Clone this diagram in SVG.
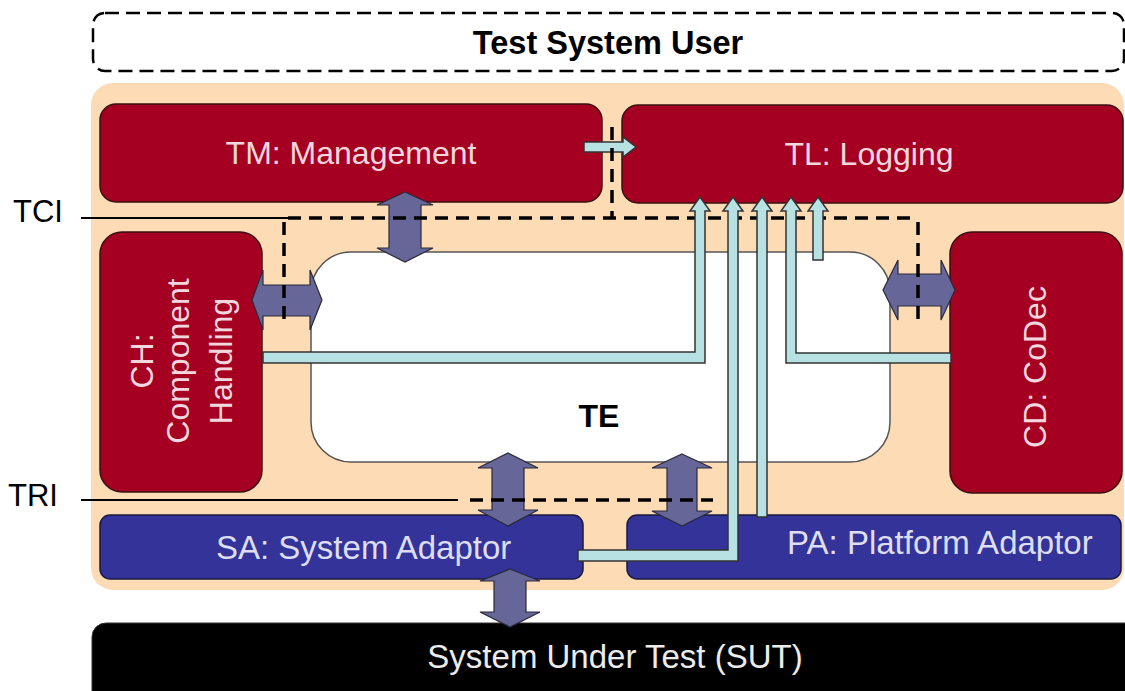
<svg xmlns="http://www.w3.org/2000/svg" width="1125" height="691" viewBox="0 0 1125 691">
<style>
.lbl{font-family:"Liberation Sans",Arial,sans-serif;font-size:32px}
.red{fill:#A50021;stroke:#3a1010;stroke-width:1.5}
.blue{fill:#333399;stroke:#1a1a40;stroke-width:1.5}
.rtxt{fill:#F2D8DE}
.btxt{fill:#DEDEF2}
.pa{fill:#666699;stroke:#2a2a3a;stroke-width:1.2}
.lb{fill:#B8E1E4;stroke:#333;stroke-width:1.5}
.dash{stroke:#000;stroke-width:3.5;stroke-dasharray:13 8;fill:none}
.solid{stroke:#000;stroke-width:2;fill:none}
</style>
<rect width="1125" height="691" fill="#fff"/>
<g id="user">
<rect x="93" y="13" width="1031" height="58" rx="12" fill="#fff" stroke="#000" stroke-width="2.5" stroke-dasharray="14 7"/>
<text class="lbl" x="608" y="54" text-anchor="middle" font-weight="bold" style="font-size:32.5px" fill="#000">Test System User</text>
</g>
<g id="container">
<rect x="91" y="83" width="1033" height="507" rx="22" fill="#FDDBB5"/>
</g>
<g id="TE">
<rect x="311" y="252" width="579" height="210" rx="40" fill="#fff" stroke="#555" stroke-width="1.5"/>
<text class="lbl" x="599" y="427" text-anchor="middle" font-weight="bold" fill="#000">TE</text>
</g>
<g id="TM">
<rect class="red" x="100" y="104" width="502" height="98" rx="16"/>
<text class="lbl rtxt" x="351" y="164" text-anchor="middle">TM: Management</text>
</g>
<g id="TL">
<rect class="red" x="622" y="105" width="501" height="98" rx="16"/>
<text class="lbl rtxt" x="869" y="165" text-anchor="middle">TL: Logging</text>
</g>
<g id="CH">
<rect class="red" x="100" y="232" width="162" height="260" rx="22"/>
<text class="lbl rtxt" transform="translate(0,361) rotate(-90)" text-anchor="middle"><tspan x="0" y="153">CH:</tspan><tspan x="0" y="189">Component</tspan><tspan x="0" y="232">Handling</tspan></text>
</g>
<g id="CD">
<rect class="red" x="950" y="232" width="172" height="261" rx="22"/>
<text class="lbl rtxt" transform="translate(0,367) rotate(-90)" text-anchor="middle" x="0" y="1046">CD: CoDec</text>
</g>
<g id="SA">
<rect class="blue" x="100" y="515" width="483" height="64" rx="10"/>
<text class="lbl btxt" x="216" y="559" style="font-size:33px">SA: System Adaptor</text>
</g>
<g id="PA">
<rect class="blue" x="627" y="515" width="494" height="64" rx="10"/>
<text class="lbl btxt" x="787" y="554" style="font-size:33px">PA: Platform Adaptor</text>
</g>
<g id="SUT">
<rect x="92" y="623" width="1050" height="90" rx="14" fill="#000" stroke="#333" stroke-width="1"/>
<text class="lbl" x="615" y="668" text-anchor="middle" style="font-size:33px" fill="#ECECEC">System Under Test (SUT)</text>
</g>
<g id="TCI">
<text class="lbl" x="13" y="222" style="font-size:31px" fill="#000">TCI</text>
</g>
<g id="TRI">
<text class="lbl" x="8" y="506" style="font-size:31px" fill="#000">TRI</text>
</g>
<g id="connectors">
<path class="lb" d="M584,142 H623 V137 L636,147 L623,157 V152 H584 Z"/>
<path class="pa" d="M405,192 L433,205 H421 V248 H433 L405,262 L377,248 H389 V205 H377 Z"/>
<path class="pa" d="M252,300 L263,270 V285 H310 V270 L322,300 L310,330 V316 H263 V330 Z"/>
<path class="pa" d="M883,290 L898,260 V274 H941 V260 L955,290 L941,320 V306 H898 V320 Z"/>
<path class="pa" d="M508,453 L538,468 H524 V510 H538 L508,526 L478,510 H492 V468 H478 Z"/>
<path class="pa" d="M682,454 L712,468 H697 V511 H712 L682,526 L652,511 H667 V468 H652 Z"/>
<path class="pa" d="M510,569 L540,581 H526 V612 H540 L510,627 L480,612 H494 V581 H480 Z"/>
<path class="solid" d="M81,218 H288"/>
<path class="dash" d="M288,218 H918"/>
<path class="dash" d="M284,222 V325"/>
<path class="dash" d="M612,127 V218"/>
<path class="dash" d="M918,222 V320"/>
<path class="solid" d="M81,500 H458"/>
<path class="dash" d="M470,500 H713"/>
<path class="lb" d="M263,352 H695 V211 H690 L700,197 L710,211 H705 V363 H263 Z"/>
<path class="lb" d="M578,550 H728 V211 H723 L733,197 L743,211 H738 V561 H578 Z"/>
<path class="lb" d="M757,517 V211 H752 L762,197 L772,211 H767 V517 Z"/>
<path class="lb" d="M951,353 H796 V211 H801 L791,197 L781,211 H786 V363 H951 Z"/>
<path class="lb" d="M813,260 V211 H808 L818,197 L828,211 H823 V260 Z"/>
</g>
</svg>
